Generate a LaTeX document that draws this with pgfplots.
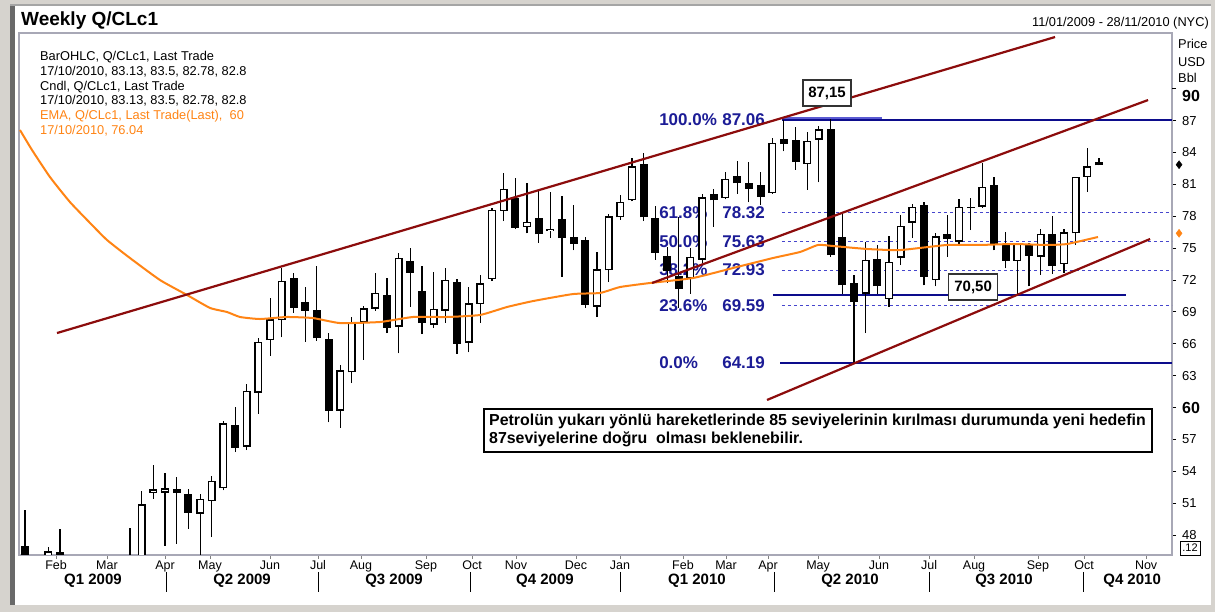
\documentclass[border=0pt]{standalone}
\usepackage{fontspec}
\setmainfont{Liberation Sans}
\usepackage{pgfplots}
\usepackage{pgfplotstable}
\pgfplotsset{compat=1.18}

\definecolor{trendred}{RGB}{140,12,12}
\definecolor{fibnavy}{RGB}{12,12,140}
\definecolor{fibtext}{RGB}{28,28,150}
\definecolor{fibdash}{RGB}{70,70,205}
\definecolor{fiblight}{RGB}{90,90,210}
\definecolor{emaorange}{RGB}{255,132,20}
\definecolor{framegray}{RGB}{168,168,182}
\definecolor{outergray}{RGB}{214,211,206}
\definecolor{edgegray}{RGB}{105,105,105}
\tikzset{fiblab/.style={font=\fontsize{17}{19}\selectfont\bfseries, text=fibtext, inner sep=0pt}}

\pgfplotstableread{
w O H L C
0 47.0 50.4 40.5 40.8
1 40.8 42.6 33.2 36.5
2 36.5 46.9 32.7 46.47
3 46.4 48.6 40.6 41.7
4 41.7 43.0 38.0 40.2
5 40.2 40.7 35.0 37.5
6 37.5 39.5 33.6 38.9
7 38.9 45.3 36.0 44.8
8 44.8 46.0 39.4 45.5
9 45.5 48.7 41.5 45.9
10 45.9 52.1 45.0 50.9
11 52.0 54.6 51.4 52.3
12 52.0 53.8 47.0 52.4
13 52.3 53.5 47.2 51.95
14 51.9 52.3 48.6 50.1
15 50.0 51.9 45.8 51.4
16 51.2 53.6 47.8 53.1
17 52.4 58.7 52.2 58.5
18 58.35 60.05 55.8 56.2
19 56.3 62.2 56.0 61.6
20 61.4 66.5 59.4 66.2
21 66.35 70.3 64.85 68.3
22 68.2 73.1 66.6 71.9
23 72.2 72.7 68.9 69.4
24 69.9 71.3 66.2 69.1
25 69.2 73.3 66.3 66.5
26 66.45 67.0 58.6 59.7
27 59.7 64.0 58.1 63.5
28 63.3 68.5 62.3 68.05
29 68.0 69.6 64.5 69.35
30 69.3 72.65 69.1 70.8
31 70.6 72.2 67.0 67.5
32 67.6 74.5 65.1 74.1
33 73.8 75.0 69.5 72.7
34 71.0 73.3 66.9 67.95
35 67.8 72.8 67.5 69.3
36 69.1 73.1 68.0 72.0
37 71.8 72.1 65.05 66.0
38 66.1 71.35 65.2 69.8
39 69.75 72.5 68.0 71.7
40 72.1 78.8 71.9 78.6
41 78.5 82.1 77.55 80.6
42 79.7 81.6 76.8 76.9
43 77.0 81.1 76.4 77.5
44 77.8 80.5 75.5 76.3
45 76.6 80.3 76.0 76.8
46 77.7 79.9 72.3 75.95
47 76.05 79.1 74.8 75.4
48 75.8 76.05 69.4 69.65
49 69.5 74.6 68.5 73.0
50 72.9 78.2 71.8 78.0
51 77.9 80.0 77.65 79.35
52 79.5 83.5 79.4 82.7
53 82.9 83.96 77.55 77.9
54 77.8 79.0 73.9 74.55
55 74.3 75.1 71.7 72.85
56 72.4 77.9 69.4 71.15
57 72.2 75.0 70.7 74.2
58 73.9 80.1 73.6 79.8
59 80.1 80.6 77.0 79.5
60 79.7 82.2 79.6 81.5
61 81.8 83.2 80.1 81.1
62 81.1 83.1 79.3 80.6
63 80.9 82.2 79.1 79.8
64 80.2 85.4 80.1 84.9
65 85.3 87.06 84.1 84.8
66 85.2 86.4 82.4 83.1
67 82.9 85.9 80.5 85.1
68 85.2 86.5 81.2 86.2
69 86.2 87.15 74.2 74.35
70 76.05 78.3 70.7 71.5
71 71.7 72.5 64.2 69.9
72 70.7 75.6 67.0 73.9
73 74.0 75.3 70.7 71.4
74 70.2 76.1 69.5 73.7
75 74.1 78.1 73.4 77.1
76 77.4 79.2 75.95 78.9
77 79.1 79.3 71.5 72.3
78 72.0 76.4 71.4 76.1
79 76.3 78.1 74.2 75.9
80 75.6 79.6 75.3 78.9
81 78.9 79.7 76.7 78.8
82 78.9 83.0 78.8 80.75
83 80.95 81.7 74.8 75.3
84 75.3 76.5 73.1 73.8
85 73.8 75.5 70.7 75.4
86 75.3 75.5 71.4 74.3
87 74.2 76.8 72.5 76.35
88 76.35 78.0 72.6 73.3
89 73.5 76.8 72.7 76.5
90 76.4 81.7 75.3 81.7
91 81.7 84.4 80.3 82.7
92 83.13 83.5 82.78 82.8
}\candles

\begin{document}
\begin{tikzpicture}
\fill[outergray] (0pt,0pt) rectangle (1215pt,612pt);
\fill[white] (15pt,7pt) rectangle (1211pt,606pt);
\fill[edgegray] (10pt,7pt) rectangle (15pt,607pt);
\fill[edgegray!60] (10pt,606pt) rectangle (1211pt,607.5pt);

\node[anchor=west, inner sep=0pt, font=\fontsize{19}{21}\selectfont\bfseries] at (21pt,591pt) {Weekly Q/CLc1};
\node[anchor=east, inner sep=0pt, font=\fontsize{12.8}{14}\selectfont] at (1209pt,589pt) {11/01/2009 - 28/11/2010 (NYC)};

\begin{axis}[
  at={(19pt,57pt)}, anchor=south west,
  scale only axis, width=1153pt, height=522pt,
  xmin=-0.514, xmax=98.25, ymin=46.12, ymax=95.25,
  clip mode=individual, clip marker paths=true,
  axis line style={draw=framegray, line width=1.2pt},
  tick align=outside, major tick length=4pt,
  ytick pos=right, yticklabel pos=right, xtick pos=bottom,
  ytick={48,51,54,57,60,63,66,69,72,75,78,81,84,87},
  yticklabels={48,51,54,57,{\fontsize{16}{16}\selectfont\bfseries 60},63,66,69,72,75,78,81,84,87},
  extra y ticks={90},
  extra y tick labels={{\fontsize{16}{16}\selectfont\bfseries 90}},
  extra y tick style={yticklabel style={yshift=-7pt}},
  ytick style={draw=black, line width=0.8pt},
  yticklabel style={font=\fontsize{13}{14}\selectfont, anchor=west, inner sep=0pt, xshift=6pt},
  xtick={2.66,7.02,11.99,15.85,20.99,25.10,28.78,34.35,38.29,42.06,47.20,50.97,56.36,60.05,63.65,67.93,73.15,77.44,81.29,86.77,90.71,96.03},
  xticklabels={Feb,Mar,Apr,May,Jun,Jul,Aug,Sep,Oct,Nov,Dec,Jan,Feb,Mar,Apr,May,Jun,Jul,Aug,Sep,Oct,Nov},
  xtick style={draw=gray, line width=0.8pt},
  xticklabel style={font=\fontsize{12.5}{13}\selectfont, anchor=north, inner sep=0pt, yshift=-1.5pt},
]
% Fibonacci labels (under the candles)
\node[fiblab, anchor=west] at (axis cs:54.31,87.06) {100.0\%};
\node[fiblab, anchor=east] at (axis cs:63.39,87.06) {87.06};
\node[fiblab, anchor=west] at (axis cs:54.31,78.32) {61.8\%};
\node[fiblab, anchor=east] at (axis cs:63.39,78.32) {78.32};
\node[fiblab, anchor=west] at (axis cs:54.31,75.63) {50.0\%};
\node[fiblab, anchor=east] at (axis cs:63.39,75.63) {75.63};
\node[fiblab, anchor=west] at (axis cs:54.31,72.93) {38.2\%};
\node[fiblab, anchor=east] at (axis cs:63.39,72.93) {72.93};
\node[fiblab, anchor=west] at (axis cs:54.31,69.59) {23.6\%};
\node[fiblab, anchor=east] at (axis cs:63.39,69.59) {69.59};
\node[fiblab, anchor=west] at (axis cs:54.31,64.19) {0.0\%};
\node[fiblab, anchor=east] at (axis cs:63.39,64.19) {64.19};

% Fibonacci levels
\addplot[fibdash, line width=0.9pt, dash pattern=on 3.5pt off 2.5pt] coordinates {(64.84,78.32) (98.25,78.32)};
\addplot[fibdash, line width=0.9pt, dash pattern=on 3.5pt off 2.5pt] coordinates {(64.84,75.63) (98.25,75.63)};
\addplot[fibdash, line width=0.9pt, dash pattern=on 3.5pt off 2.5pt] coordinates {(64.84,72.93) (98.25,72.93)};
\addplot[fibdash, line width=0.9pt, dash pattern=on 3.5pt off 2.5pt] coordinates {(64.84,69.59) (98.25,69.59)};
\addplot[fibnavy, line width=2pt] coordinates {(64.84,87.06) (98.25,87.06)};
\addplot[fiblight, line width=1.2pt] coordinates {(64.84,87.25) (73.41,87.25)};
\addplot[fibnavy, line width=2pt] coordinates {(64.07,70.6) (94.31,70.6)};
\addplot[fibnavy, line width=2pt] coordinates {(64.67,64.19) (98.25,64.19)};

% candle wicks
\addplot[draw=none, mark=none, error bars/.cd, y dir=plus, y explicit, error mark=none,
  error bar style={draw=black, line width=1.2pt}]
  table[x=w, y=L, y error plus expr={\thisrow{H}-\thisrow{L}}] {\candles};
% falling candles (black bodies)
\addplot[draw=none, mark=none, restrict expr to domain={\thisrow{O}-\thisrow{C}}{0:100},
  error bars/.cd, y dir=plus, y explicit, error mark=none,
  error bar style={draw=black, line width=8pt}]
  table[x=w, y=C, y error plus expr={\thisrow{O}-\thisrow{C}}] {\candles};
% rising candles (white bodies with black outline)
\addplot[draw=none, mark=none, restrict expr to domain={\thisrow{C}-\thisrow{O}}{0.00001:100},
  error bars/.cd, y dir=plus, y explicit, error mark=none,
  error bar style={draw=black, line width=8pt}]
  table[x=w, y=O, y error plus expr={\thisrow{C}-\thisrow{O}}] {\candles};
\addplot[draw=none, mark=none, restrict expr to domain={\thisrow{C}-\thisrow{O}}{0.00001:100},
  error bars/.cd, y dir=plus, y explicit, error mark=none,
  error bar style={draw=white, line width=5.2pt}]
  table[x=w, y expr=\thisrow{O}+0.13, y error plus expr={\thisrow{C}-\thisrow{O}-0.26}] {\candles};

% EMA 60
\addplot[emaorange, line width=2pt, smooth, tension=0.3] coordinates {
(-0.43,86.12) (0.60,84.24) (2.14,81.69) (3.85,79.34) (5.57,77.37) (7.02,75.77)
(8.99,74.07) (11.56,72.00) (13.88,70.59) (15.85,69.37) (17.30,68.99) (18.42,68.52)
(20.13,68.33) (22.44,68.52) (24.67,68.42) (26.98,67.95) (30.41,68.05) (33.24,68.52)
(36.15,68.52) (38.98,68.71) (41.29,69.46) (43.52,70.02) (46.94,70.68) (49.25,70.78)
(50.97,71.34) (53.54,71.72) (57.22,72.19) (60.65,73.13) (64.07,74.07) (66.39,74.64)
(67.93,75.30) (69.21,75.20) (72.13,74.92) (74.95,74.82) (78.98,75.30) (81.81,75.30)
(84.63,75.39) (87.54,75.30) (89.26,75.39) (91.91,76.05)};

% trend channel lines
\addplot[trendred, line width=2.2pt] coordinates {(2.74,67.01) (88.23,94.87)};
\addplot[trendred, line width=2.2pt] coordinates {(53.71,71.72) (96.2,88.94)};
\addplot[trendred, line width=2.2pt] coordinates {(63.56,60.71) (96.37,75.86)};

% boxed levels
\node[draw=black!80, line width=1.2pt, fill=white, minimum width=48pt, minimum height=26pt, inner sep=0pt,
  font=\fontsize{15}{17}\selectfont\bfseries] at (axis cs:68.7,89.6) {87,15};
\node[draw=black!80, line width=1.2pt, fill=white, minimum width=49pt, minimum height=26pt, inner sep=0pt,
  font=\fontsize{15}{17}\selectfont\bfseries] at (axis cs:81.21,71.34) {70,50};

% quarter separators and labels
\foreach \q in {12.08,25.10,38.12,50.97,64.16,77.44,90.63}{
  \edef\temp{\noexpand\draw[black, line width=1pt] ([yshift=-17pt]axis cs:\q,46.12) -- ([yshift=-37pt]axis cs:\q,46.12);}
  \temp
}
\foreach \q/\t in {5.82/Q1 2009,18.59/Q2 2009,31.61/Q3 2009,44.54/Q4 2009,57.56/Q1 2010,70.67/Q2 2010,83.86/Q3 2010,94.83/Q4 2010}{
  \edef\temp{\noexpand\node[font=\noexpand\fontsize{15}{17}\noexpand\selectfont\noexpand\bfseries] at ([yshift=-26pt]axis cs:\q,46.12) {\t};}
  \temp
}
\end{axis}

% last-value markers on the price scale
\begin{axis}[
  at={(19pt,57pt)}, anchor=south west,
  scale only axis, width=1153pt, height=522pt,
  xmin=-0.514, xmax=98.25, ymin=46.12, ymax=95.25,
  hide axis, clip=false]
\addplot[only marks, mark=diamond*, mark size=4pt, black] coordinates {(98.85,82.85)};
\addplot[only marks, mark=diamond*, mark size=4pt, emaorange] coordinates {(98.85,76.4)};
\end{axis}

% legend text
\begin{scope}[every node/.style={anchor=west, inner sep=0pt, font=\fontsize{12.8}{14}\selectfont}]
\node at (40pt,554.5pt) {BarOHLC, Q/CLc1, Last Trade};
\node at (40pt,540pt) {17/10/2010, 83.13, 83.5, 82.78, 82.8};
\node at (40pt,525.3pt) {Cndl, Q/CLc1, Last Trade};
\node at (40pt,511pt) {17/10/2010, 83.13, 83.5, 82.78, 82.8};
\node[text=emaorange] at (40pt,496pt) {EMA, Q/CLc1, Last Trade(Last),\ \ 60};
\node[text=emaorange] at (40pt,481.3pt) {17/10/2010, 76.04};
\node at (1178pt,568pt) {Price};
\node at (1178pt,550pt) {USD};
\node at (1178pt,534pt) {Bbl};
\end{scope}
\node[draw=black, line width=0.8pt, inner sep=1.5pt, font=\fontsize{11}{12}\selectfont, minimum width=20pt, minimum height=14pt] at (1190pt,64pt) {.12};

% comment box
\draw[black, line width=1.3pt, fill=white] (484pt,160pt) rectangle (1152pt,203pt);
\node[anchor=west, inner sep=0pt, font=\fontsize{15.9}{17}\selectfont\bfseries] at (489pt,191pt) {Petrolün yukarı yönlü hareketlerinde 85 seviyelerinin kırılması durumunda yeni hedefin};
\node[anchor=west, inner sep=0pt, font=\fontsize{15.9}{17}\selectfont\bfseries] at (489pt,172.5pt) {87seviyelerine doğru\ \ olması beklenebilir.};

\pgfresetboundingbox
\path[use as bounding box] (0pt,0pt) rectangle (1215pt,612pt);
\end{tikzpicture}
\end{document}
